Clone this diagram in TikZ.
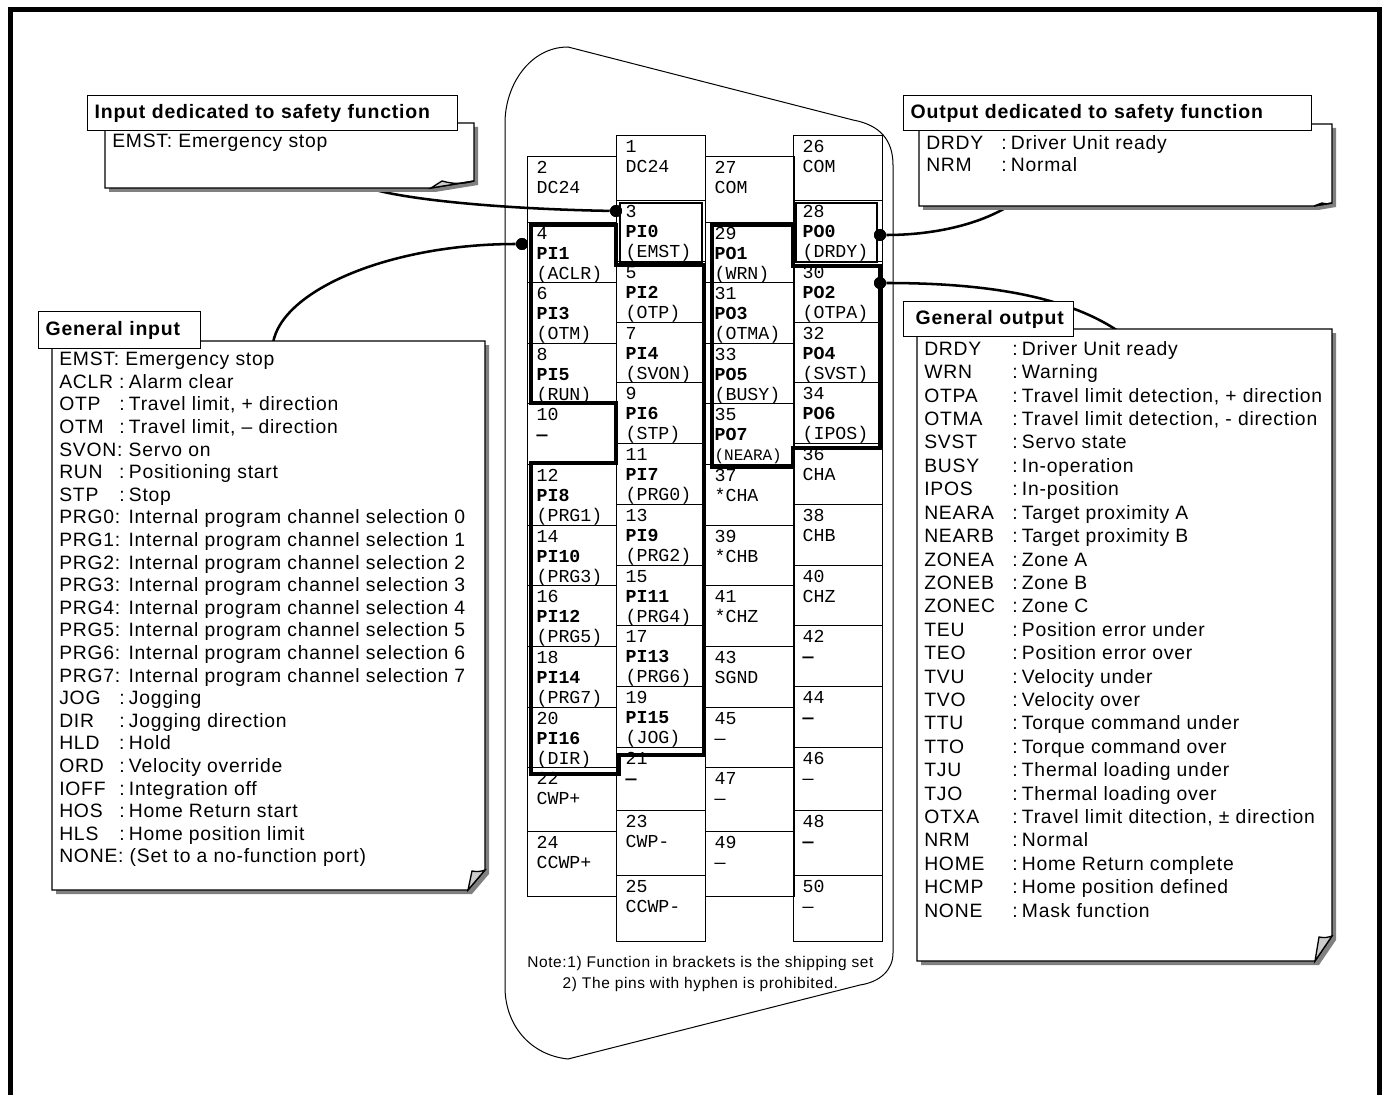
\documentclass[tikz,border=0pt]{standalone}
\usepackage{fontspec}
\setmainfont{Liberation Sans}[LetterSpace=4]
\setmonofont{Liberation Mono}
\usepackage{tikz}
\tikzset{
pincell/.style={draw,line width=1pt,inner sep=0pt,anchor=north west,minimum width=66.75pt},
pintext/.style={anchor=north west,align=left,inner xsep=7pt,inner ysep=3.75pt,font=\fontsize{13.7}{15}\selectfont\ttfamily},
noteline/.style={anchor=north west,align=left,inner sep=0pt,font=\fontsize{14.5}{16.95}\selectfont},
headbox/.style={draw,fill=white,line width=1pt,anchor=north west,align=left,inner ysep=0pt,font=\fontsize{14.6}{17}\selectfont\bfseries},
thickpath/.style={line width=2.6pt,line join=miter},
pinbox/.style={line width=2.1pt},
wire/.style={line width=1.9pt},
dot/.style={circle,fill=black,inner sep=0pt,minimum size=9pt}
}
\newcommand{\pin}[5]{
\node[pincell,minimum height={(#4-#3)*0.75pt}] (pin#1) at (#2,#3) {};
\node[pintext] (pinlabel#1) at (pin#1.north west) {#1\\#5};
}
\newcommand{\papernote}[8]{
\fill[black!50] (#1+4,#2+4)--(#3+4,#2+4)--(#3+4,#6+4)--(#5+4,#4+4)--(#1+4,#4+4)--cycle;
\draw[fill=white,line width=1pt] (#1,#2)--(#3,#2)--(#3,#6)--(#5,#4)--(#1,#4)--cycle;
\draw[fill=black!20,line width=1pt] (#5,#4)--(#7,#8) to[bend right=15] (#3,#6)--cycle;
}
\newcommand{\notekey}[2]{\makebox[#1][l]{#2}:\hspace{3.2pt}}
\newcommand{\inkey}[1]{\notekey{45pt}{#1}}
\newcommand{\outkey}[1]{\notekey{66pt}{#1}}
\begin{document}
\begin{tikzpicture}[x=0.75pt,y=-0.75pt]
\useasboundingbox (0,0) rectangle (1386,1095);
\draw[line width=3.75pt]
(10.5,1095)--(10.5,9.5)--(1379.5,9.5)--(1379.5,1095);
\draw[line width=0.75pt]
(505,123) .. controls (505,85) and (530,47) .. (568,47)--(853,120)
.. controls (880,125) and (893,140) .. (893,165)--(893,953)
.. controls (893,970) and (880,982) .. (860,985)--(568,1059)
.. controls (530,1055) and (505,1025) .. (505,987)--cycle;

\pin{1}{616}{135}{200}{DC24}
\pin{3}{616}{200}{261}{\textbf{PI0}\\(EMST)}
\pin{5}{616}{261}{322}{\textbf{PI2}\\(OTP)}
\pin{7}{616}{322}{382}{\textbf{PI4}\\(SVON)}
\pin{9}{616}{382}{443}{\textbf{PI6}\\(STP)}
\pin{11}{616}{443}{504}{\textbf{PI7}\\(PRG0)}
\pin{13}{616}{504}{565}{\textbf{PI9}\\(PRG2)}
\pin{15}{616}{565}{625}{\textbf{PI11}\\(PRG4)}
\pin{17}{616}{625}{686}{\textbf{PI13}\\(PRG6)}
\pin{19}{616}{686}{747}{\textbf{PI15}\\(JOG)}
\pin{21}{616}{747}{810}{\textbf{—}}
\pin{23}{616}{810}{875}{CWP-}
\pin{25}{616}{875}{941}{CCWP-}

\pin{2}{527}{156}{222}{DC24}
\pin{4}{527}{222}{282}{\textbf{PI1}\\(ACLR)}
\pin{6}{527}{282}{343}{\textbf{PI3}\\(OTM)}
\pin{8}{527}{343}{403}{\textbf{PI5}\\(RUN)}
\pin{10}{527}{403}{464}{\textbf{—}}
\pin{12}{527}{464}{525}{\textbf{PI8}\\(PRG1)}
\pin{14}{527}{525}{585}{\textbf{PI10}\\(PRG3)}
\pin{16}{527}{585}{646}{\textbf{PI12}\\(PRG5)}
\pin{18}{527}{646}{707}{\textbf{PI14}\\(PRG7)}
\pin{20}{527}{707}{767}{\textbf{PI16}\\(DIR)}
\pin{22}{527}{767}{831}{CWP+}
\pin{24}{527}{831}{896}{CCWP+}

\pin{27}{705}{156}{222}{COM}
\pin{29}{705}{222}{282}{\textbf{PO1}\\(WRN)}
\pin{31}{705}{282}{343}{\textbf{PO3}\\(OTMA)}
\pin{33}{705}{343}{403}{\textbf{PO5}\\(BUSY)}
\pin{35}{705}{403}{464}{\textbf{PO7}\\{\fontsize{12}{15}\selectfont(NEARA)}}
\pin{37}{705}{464}{525}{*CHA}
\pin{39}{705}{525}{585}{*CHB}
\pin{41}{705}{585}{646}{*CHZ}
\pin{43}{705}{646}{707}{SGND}
\pin{45}{705}{707}{767}{—}
\pin{47}{705}{767}{831}{—}
\pin{49}{705}{831}{896}{—}

\pin{26}{793}{135}{200}{COM}
\pin{28}{793}{200}{261}{\textbf{PO0}\\(DRDY)}
\pin{30}{793}{261}{322}{\textbf{PO2}\\(OTPA)}
\pin{32}{793}{322}{382}{\textbf{PO4}\\(SVST)}
\pin{34}{793}{382}{443}{\textbf{PO6}\\(IPOS)}
\pin{36}{793}{443}{504}{CHA}
\pin{38}{793}{504}{565}{CHB}
\pin{40}{793}{565}{625}{CHZ}
\pin{42}{793}{625}{686}{\textbf{—}}
\pin{44}{793}{686}{747}{\textbf{—}}
\pin{46}{793}{747}{810}{—}
\pin{48}{793}{810}{875}{\textbf{—}}
\pin{50}{793}{875}{941}{—}

\node[dot] (dotEmst) at (616,211) {};
\node[dot] (dotInput) at (522,244) {};
\node[dot] (dotDrdy) at (880,235) {};
\node[dot] (dotOutput) at (880,283) {};
\coordinate (safeInEnd) at (363,186);
\coordinate (genInEnd) at (273,343);
\coordinate (safeOutEnd) at (1012,204);
\coordinate (genOutEnd) at (1118,331);
\draw[wire] (safeInEnd) .. controls (395,199) and (500,209) .. (dotEmst);
\draw[wire] (genInEnd) .. controls (282,290) and (390,244) .. (dotInput);
\draw[wire] (dotDrdy) .. controls (930,235) and (978,226) .. (safeOutEnd);
\draw[wire] (dotOutput) .. controls (970,283) and (1060,292) .. (genOutEnd);

\papernote{105}{123}{474}{188}{431}{181}{442}{181}
\papernote{919}{124}{1332}{206}{1314}{203}{1322}{203}
\papernote{52}{341}{485}{890}{468}{870}{472}{871}
\papernote{917}{329}{1332}{961}{1315}{936}{1319}{937}

\node[headbox,minimum width=277.5pt,minimum height=26.25pt,text width=267pt] (headSafeIn) at (87,95) {Input dedicated to safety function};
\node[headbox,minimum width=306pt,minimum height=26.25pt,text width=295.5pt] (headSafeOut) at (903,95) {Output dedicated to safety function};
\node[headbox,minimum width=121.5pt,minimum height=27.75pt,text width=111pt] (headGenIn) at (38,311) {General input};
\node[headbox,minimum width=127.5pt,minimum height=26.25pt,inner xsep=9pt,text width=109.5pt] (headGenOut) at (903,301) {\mbox{General output}};

\node[noteline] (textSafeIn) at (112,134) {EMST: Emergency stop};
\node[noteline] (textSafeOut) at (926,135) {\notekey{56.25pt}{DRDY}Driver Unit ready\\\notekey{56.25pt}{NRM}Normal};
\node[noteline] (textGenIn) at (59,352) {EMST: Emergency stop\\
\inkey{ACLR}Alarm clear\\
\inkey{OTP}Travel limit, + direction\\
\inkey{OTM}Travel limit, – direction\\
SVON: Servo on\\
\inkey{RUN}Positioning start\\
\inkey{STP}Stop\\
PRG0: Internal program channel selection 0\\
PRG1: Internal program channel selection 1\\
PRG2: Internal program channel selection 2\\
PRG3: Internal program channel selection 3\\
PRG4: Internal program channel selection 4\\
PRG5: Internal program channel selection 5\\
PRG6: Internal program channel selection 6\\
PRG7: Internal program channel selection 7\\
\inkey{JOG}Jogging\\
\inkey{DIR}Jogging direction\\
\inkey{HLD}Hold\\
\inkey{ORD}Velocity override\\
\inkey{IOFF}Integration off\\
\inkey{HOS}Home Return start\\
\inkey{HLS}Home position limit\\
NONE: (Set to a no-function port)};
\node[noteline,font=\fontsize{14.5}{17.56}\selectfont] (textGenOut) at (924,341) {\outkey{DRDY}Driver Unit ready\\
\outkey{WRN}Warning\\
\outkey{OTPA}Travel limit detection, + direction\\
\outkey{OTMA}Travel limit detection, - direction\\
\outkey{SVST}Servo state\\
\outkey{BUSY}In-operation\\
\outkey{IPOS}In-position\\
\outkey{NEARA}Target proximity A\\
\outkey{NEARB}Target proximity B\\
\outkey{ZONEA}Zone A\\
\outkey{ZONEB}Zone B\\
\outkey{ZONEC}Zone C\\
\outkey{TEU}Position error under\\
\outkey{TEO}Position error over\\
\outkey{TVU}Velocity under\\
\outkey{TVO}Velocity over\\
\outkey{TTU}Torque command under\\
\outkey{TTO}Torque command over\\
\outkey{TJU}Thermal loading under\\
\outkey{TJO}Thermal loading over\\
\outkey{OTXA}Travel limit ditection, ± direction\\
\outkey{NRM}Normal\\
\outkey{HOME}Home Return complete\\
\outkey{HCMP}Home position defined\\
\outkey{NONE}Mask function};
\node[anchor=north west,inner sep=0pt,align=center,font=\fontsize{11.6}{15.6}\selectfont] (textNote) at (527,956) {Note:1) Function in brackets is the shipping set\\2) The pins with hyphen is prohibited.};

\draw[pinbox] (620,203) rectangle (702,262);
\draw[pinbox] (796,203) rectangle (877,262);
\draw[thickpath]
(531,225)--(616,225)--(616,265)--(704,265)--(704,755)--(619,755)--(619,774)--(531,774)
--(531,463)--(616,463)--(616,403)--(531,403)--cycle;
\draw[thickpath]
(712,225)--(793,225)--(793,266)--(880,266)--(880,448)--(793,448)--(793,467)--(712,467)--cycle;
\node[dot] at (dotEmst) {};
\node[dot] at (dotInput) {};
\node[dot] at (dotDrdy) {};
\node[dot] at (dotOutput) {};
\end{tikzpicture}
\end{document}
